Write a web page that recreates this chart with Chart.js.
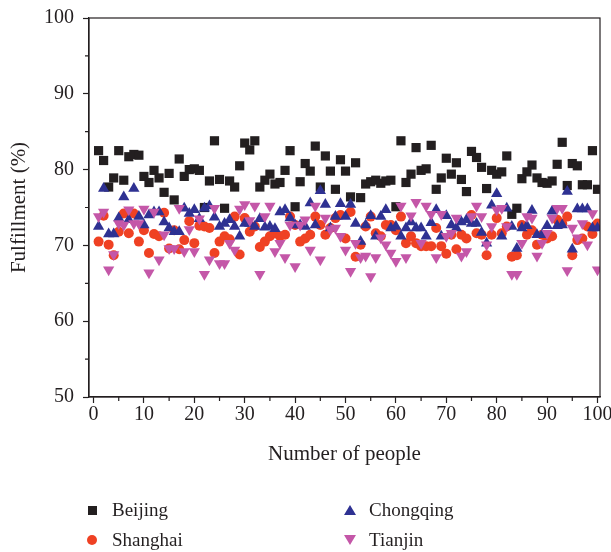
<!DOCTYPE html>
<html>
<head>
<meta charset="utf-8">
<script src="https://cdn.jsdelivr.net/npm/chart.js@4.4.1/dist/chart.umd.min.js"></script>
<style>
  body { margin: 0; background: #fff; }
  #wrap { position: relative; width: 611px; height: 552px; }
  .legend-item { position: absolute; font-family: "Liberation Serif", serif; font-size: 19px; color: #231f20; line-height: 22px; }
  .mk { position: absolute; }
  .sq { width: 9px; height: 9px; background: #231f20; }
  .ci { width: 10px; height: 10px; border-radius: 50%; background: #ef4123; }
  .up { width: 0; height: 0; border-left: 6px solid transparent; border-right: 6px solid transparent; border-bottom: 10px solid #2e3192; }
  .dn { width: 0; height: 0; border-left: 6px solid transparent; border-right: 6px solid transparent; border-top: 10px solid #c457a8; }
</style>
</head>
<body>
<div id="wrap">
  <canvas id="chart" width="611" height="552"></canvas>
  <div class="mk sq" style="left:88px;top:506px"></div>
  <div class="legend-item" style="left:112px;top:499px">Beijing</div>
  <div class="mk ci" style="left:87px;top:535px"></div>
  <div class="legend-item" style="left:112px;top:529px">Shanghai</div>
  <div class="mk up" style="left:344px;top:505px"></div>
  <div class="legend-item" style="left:369px;top:499px">Chongqing</div>
  <div class="mk dn" style="left:344px;top:535px"></div>
  <div class="legend-item" style="left:369px;top:529px">Tianjin</div>
</div>
<script>
// number of people (x)
const people = [1,2,3,4,5,6,7,8,9,10,11,12,13,14,15,16,17,18,19,20,
  21,22,23,24,25,26,27,28,29,30,31,32,33,34,35,36,37,38,39,40,
  41,42,43,44,45,46,47,48,49,50,51,52,53,54,55,56,57,58,59,60,
  61,62,63,64,65,66,67,68,69,70,71,72,73,74,75,76,77,78,79,80,
  81,82,83,84,85,86,87,88,89,90,91,92,93,94,95,96,97,98,99,100];

// fulfillment (%)
const beijing = [82.5,81.2,77.7,78.9,82.5,78.6,81.7,82.0,81.9,79.1,78.3,79.9,78.9,77.0,79.5,76.0,81.4,79.1,80.0,80.1,
  79.9,75.0,78.5,83.8,78.7,74.9,78.5,77.7,80.5,83.5,82.6,83.8,77.7,78.6,79.4,78.1,78.3,79.9,82.5,75.1,
  78.4,80.8,79.8,83.1,77.7,81.8,79.8,77.4,81.3,79.8,76.4,80.9,76.3,78.1,78.4,78.6,78.2,78.5,78.6,75.1,
  83.8,78.3,79.4,82.9,79.9,80.1,83.2,77.4,78.9,81.5,79.4,80.9,78.7,77.1,82.4,81.6,80.3,77.5,79.9,79.4,
  79.7,81.8,74.1,74.9,78.8,79.7,80.6,78.9,78.3,78.2,78.5,80.7,83.6,77.9,80.8,80.5,78.0,78.0,82.5,77.4];

const shanghai = [70.5,73.9,70.1,68.7,71.8,74.2,71.6,74.2,70.5,72.0,69.0,71.5,71.2,74.3,69.6,72.0,69.5,70.7,73.2,70.3,
  72.6,72.5,72.3,69.0,70.5,71.2,70.8,73.8,68.8,73.6,71.8,72.5,69.8,70.5,71.2,71.6,71.2,71.4,73.8,72.7,
  70.5,70.9,71.4,73.8,72.7,71.4,72.3,73.6,74.0,70.9,74.4,68.5,70.1,72.5,73.8,71.6,71.2,72.7,72.7,72.0,
  73.8,70.3,71.2,70.3,69.9,69.9,69.9,72.3,69.9,68.9,71.4,69.5,71.4,70.9,74.0,71.6,71.4,68.7,71.4,73.6,
  71.6,72.5,68.5,68.7,72.7,71.4,72.0,70.1,71.4,70.9,71.2,73.4,72.9,73.8,68.7,70.7,70.9,72.5,71.5,72.9];

const chongqing = [72.5,77.5,71.5,71.5,73.6,76.4,73.4,77.5,73.8,72.7,74.0,74.4,74.4,73.1,72.3,71.8,71.8,74.9,74.2,74.7,
  73.5,74.9,75.2,73.7,72.5,72.9,73.4,72.5,71.2,72.9,72.9,72.5,73.5,72.4,72.5,72.2,74.4,74.7,73.6,72.7,
  72.7,72.5,75.6,72.7,77.2,75.4,72.3,73.8,75.5,73.8,75.4,72.9,70.5,72.7,73.9,71.2,73.8,74.7,72.3,72.5,
  71.2,72.3,73.1,72.3,72.3,71.2,73.0,74.7,71.2,73.9,72.7,72.3,73.1,73.4,72.9,72.9,71.7,70.3,75.3,76.8,
  71.2,74.9,72.5,69.6,72.3,72.6,74.6,71.4,71.4,72.6,74.5,72.6,72.7,77.1,69.5,74.8,74.8,74.8,72.3,72.3];

const tianjin = [73.8,74.4,66.8,68.8,72.9,72.7,74.7,72.9,72.9,74.8,66.4,74.4,68.1,71.4,69.6,69.6,74.9,69.2,72.1,69.2,
  73.5,66.2,68.1,74.9,67.6,67.6,70.3,69.4,74.8,75.4,73.3,75.2,66.2,73.8,75.2,69.2,70.3,68.4,72.7,67.2,
  72.7,73.4,69.4,75.2,68.1,73.6,72.1,72.3,71.2,69.4,66.6,70.3,68.4,68.6,65.9,68.4,71.0,70.1,69.0,67.9,
  75.2,68.4,73.9,75.7,70.3,75.2,74.1,68.4,74.1,71.2,71.6,73.6,68.6,69.2,73.8,75.2,73.8,70.1,72.5,74.7,
  74.9,72.5,66.2,66.2,70.3,73.8,73.6,68.6,70.3,71.6,73.6,74.9,74.9,66.7,72.3,71.0,72.9,70.1,74.2,66.8];

const xTicks = [0,10,20,30,40,50,60,70,80,90,100];
const yTicks = [50,60,70,80,90,100];

const ink = '#231f20';
const serif = '"Liberation Serif", serif';

function pts(vals) {
  return people.map((p, i) => ({ x: p, y: vals[i] }));
}

// frame on top/right + minor ticks every 5
const framePlugin = {
  id: 'frame',
  afterDraw(chart) {
    const { ctx, chartArea: a, scales } = chart;
    ctx.save();
    ctx.strokeStyle = ink;
    ctx.lineWidth = 1.2;
    ctx.strokeRect(a.left, a.top, a.right - a.left, a.bottom - a.top);
    ctx.beginPath();
    for (let v = 5; v < 100; v += 10) {
      const px = scales.x.getPixelForValue(v);
      ctx.moveTo(px, a.bottom);
      ctx.lineTo(px, a.bottom + 4);
    }
    for (let v = 55; v < 100; v += 10) {
      const py = scales.y.getPixelForValue(v);
      ctx.moveTo(a.left, py);
      ctx.lineTo(a.left - 4, py);
    }
    ctx.stroke();
    ctx.restore();
  }
};

new Chart(document.getElementById('chart'), {
  type: 'scatter',
  data: {
    datasets: [
      { label: 'Beijing', data: pts(beijing), pointStyle: 'rect', pointRadius: 6.5,
        backgroundColor: ink, borderColor: ink, borderWidth: 0, order: 4 },
      { label: 'Shanghai', data: pts(shanghai), pointStyle: 'circle', pointRadius: 5,
        backgroundColor: '#ef4123', borderColor: '#ef4123', borderWidth: 0, order: 3 },
      { label: 'Chongqing', data: pts(chongqing), pointStyle: 'triangle', pointRadius: 6.5,
        backgroundColor: '#2e3192', borderColor: '#2e3192', borderWidth: 0, order: 2 },
      { label: 'Tianjin', data: pts(tianjin), pointStyle: 'triangle', pointRotation: 180, pointRadius: 6.5,
        backgroundColor: '#c457a8', borderColor: '#c457a8', borderWidth: 0, order: 1 }
    ]
  },
  options: {
    responsive: false,
    animation: false,
    layout: { padding: { left: 0, right: 11, top: 18, bottom: 85 } },
    plugins: { legend: { display: false }, tooltip: { enabled: false } },
    scales: {
      x: {
        type: 'linear', min: -0.9, max: 100.5,
        afterBuildTicks: s => { s.ticks = xTicks.map(v => ({ value: v })); },
        afterFit: s => { s.height = 70; s.paddingLeft = 0; s.paddingRight = 0; },
        ticks: { color: ink, font: { family: serif, size: 20 }, padding: 0, maxRotation: 0 },
        grid: { drawOnChartArea: false, color: ink, tickLength: 6, tickWidth: 1.2 },
        border: { color: ink, width: 1.2 },
        title: { display: true, text: 'Number of people', color: ink,
          font: { family: serif, size: 21 }, padding: { top: 0, bottom: 0 } }
      },
      y: {
        type: 'linear', min: 50, max: 100,
        afterBuildTicks: s => { s.ticks = yTicks.map(v => ({ value: v })); },
        afterFit: s => { s.width = 89; s.paddingTop = 0; s.paddingBottom = 0; },
        ticks: { color: ink, font: { family: serif, size: 20 }, padding: 9 },
        grid: { drawOnChartArea: false, color: ink, tickLength: 6, tickWidth: 1.2 },
        border: { color: ink, width: 1.2 },
        title: { display: true, text: 'Fulfillment (%)', color: ink,
          font: { family: serif, size: 21 }, padding: { top: 7, bottom: 0 } }
      }
    }
  },
  plugins: [framePlugin]
});
</script>
</body>
</html>
